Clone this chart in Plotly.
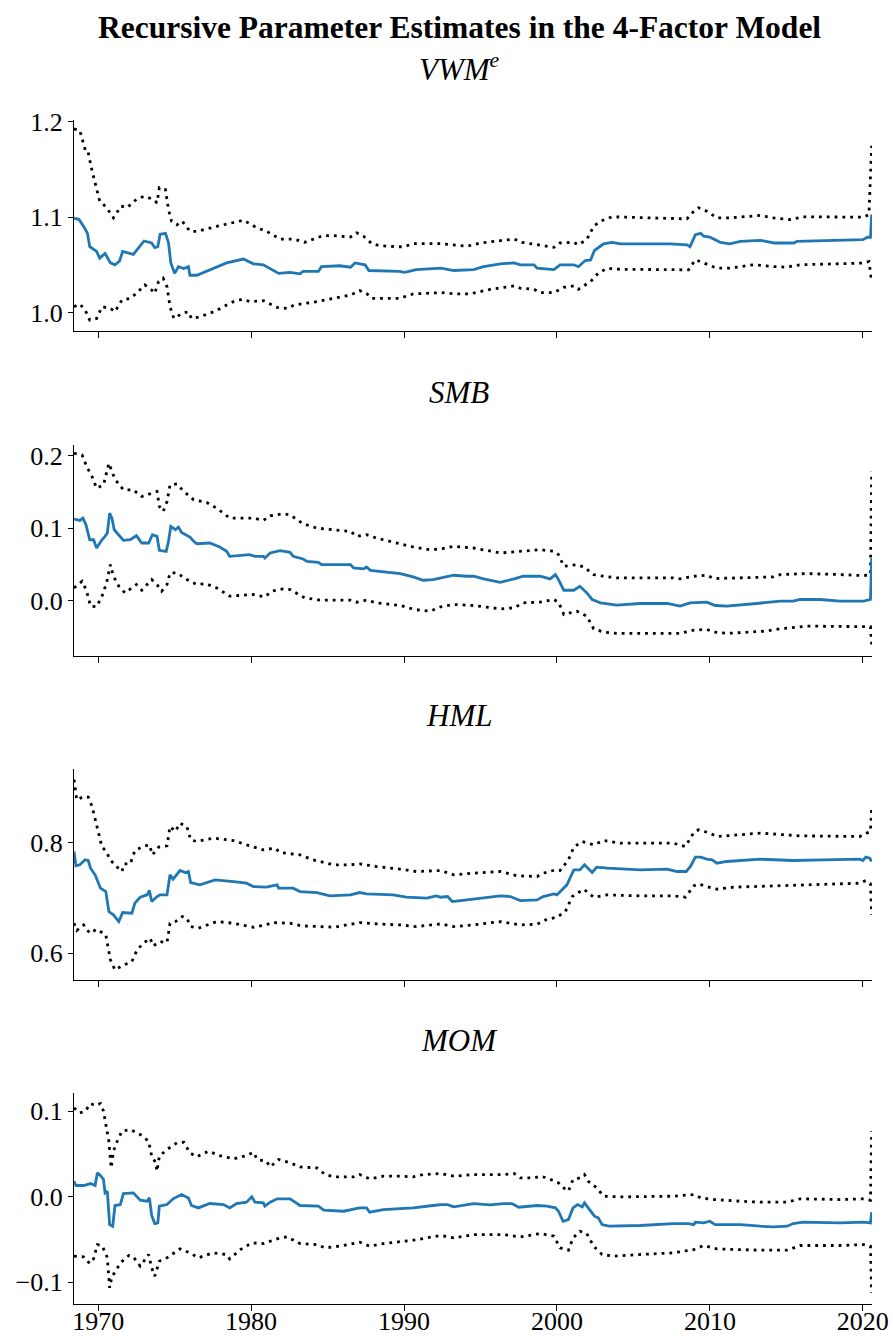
import plotly.graph_objects as go

# ---------------- data ----------------
vwm_est_x = [1968.42, 1968.75, 1969.1, 1969.3, 1969.45, 1969.9, 1970.1, 1970.45, 1970.8, 1971.1, 1971.4, 1971.6, 1972.3, 1973.0, 1973.5, 1973.7, 1973.9, 1974.05, 1974.4, 1974.6, 1974.75, 1974.9, 1975.0, 1975.25, 1975.6, 1975.9, 1976.0, 1976.45, 1977.5, 1978.4, 1979.5, 1980.15, 1980.8, 1981.8, 1982.55, 1983.2, 1983.4, 1984.4, 1984.6, 1985.8, 1986.5, 1986.8, 1987.45, 1987.7, 1989.7, 1990.05, 1990.8, 1992.4, 1993.25, 1994.55, 1995.2, 1996.3, 1997.2, 1997.6, 1998.5, 1998.7, 1999.8, 2000.2, 2001.1, 2001.4, 2001.85, 2002.2, 2002.45, 2003.05, 2003.6, 2004.15, 2007.4, 2008.5, 2008.7, 2009.05, 2009.4, 2009.6, 2010.0, 2010.7, 2011.3, 2012.0, 2013.3, 2014.2, 2015.5, 2015.7, 2020.0, 2020.3, 2020.5, 2020.58]
vwm_est_y = [1.099, 1.0975, 1.089, 1.083, 1.069, 1.064, 1.057, 1.062, 1.052, 1.050, 1.054, 1.064, 1.061, 1.075, 1.073, 1.068, 1.069, 1.082, 1.083, 1.073, 1.052, 1.045, 1.041, 1.048, 1.046, 1.048, 1.039, 1.039, 1.046, 1.052, 1.056, 1.051, 1.050, 1.041, 1.042, 1.0405, 1.043, 1.043, 1.048, 1.049, 1.0475, 1.052, 1.050, 1.044, 1.043, 1.042, 1.045, 1.0465, 1.044, 1.045, 1.048, 1.051, 1.052, 1.050, 1.050, 1.0465, 1.045, 1.050, 1.050, 1.048, 1.0545, 1.055, 1.065, 1.072, 1.0735, 1.072, 1.072, 1.071, 1.069, 1.0817, 1.083, 1.080, 1.079, 1.0735, 1.072, 1.0746, 1.0757, 1.0729, 1.0729, 1.0746, 1.0764, 1.0789, 1.0789, 1.1028]
vwm_up_x = [1968.42, 1968.8, 1969.2, 1969.35, 1969.6, 1969.9, 1970.1, 1970.55, 1971.0, 1971.5, 1971.9, 1972.5, 1973.0, 1973.6, 1973.85, 1974.0, 1974.4, 1974.6, 1974.8, 1975.15, 1975.5, 1976.0, 1976.45, 1977.8, 1978.85, 1979.5, 1980.4, 1981.0, 1981.9, 1982.8, 1983.5, 1984.3, 1984.7, 1985.4, 1986.5, 1986.9, 1987.35, 1987.9, 1988.4, 1989.95, 1990.6, 1992.4, 1993.5, 1994.1, 1995.0, 1996.3, 1997.2, 1997.7, 1998.7, 1999.8, 2000.2, 2001.1, 2001.4, 2001.95, 2002.4, 2002.85, 2003.6, 2005.45, 2008.5, 2008.95, 2009.25, 2009.8, 2010.45, 2011.3, 2013.3, 2014.15, 2015.25, 2016.1, 2020.05, 2020.4, 2020.58]
vwm_up_y = [1.1926, 1.191, 1.168, 1.168, 1.1486, 1.131, 1.117, 1.110, 1.0993, 1.1116, 1.110, 1.1187, 1.122, 1.1187, 1.115, 1.131, 1.129, 1.108, 1.0958, 1.092, 1.0958, 1.0852, 1.085, 1.0905, 1.0947, 1.0968, 1.0887, 1.0852, 1.077, 1.077, 1.0736, 1.078, 1.0806, 1.0806, 1.0792, 1.0835, 1.080, 1.0722, 1.070, 1.0687, 1.0722, 1.0722, 1.070, 1.0694, 1.0729, 1.0754, 1.0771, 1.0736, 1.0711, 1.0683, 1.0729, 1.0736, 1.0711, 1.0764, 1.0905, 1.0958, 1.1004, 1.0993, 1.0982, 1.1063, 1.1099, 1.1063, 1.0993, 1.0993, 1.1018, 1.0993, 1.0975, 1.1004, 1.100, 1.1028, 1.175]
vwm_lo_x = [1968.42, 1968.8, 1969.15, 1969.45, 1969.9, 1970.25, 1970.8, 1971.1, 1971.55, 1972.1, 1972.5, 1973.05, 1973.5, 1973.7, 1973.95, 1974.25, 1974.5, 1974.7, 1974.95, 1975.5, 1975.9, 1976.1, 1976.65, 1977.55, 1978.85, 1979.4, 1979.95, 1980.8, 1981.7, 1982.35, 1982.8, 1984.3, 1985.4, 1986.5, 1987.1, 1987.55, 1987.9, 1989.7, 1990.6, 1992.4, 1993.5, 1994.3, 1995.65, 1997.2, 1997.6, 1998.5, 1998.9, 1999.8, 2000.45, 2001.1, 2001.4, 2002.2, 2002.7, 2003.3, 2003.7, 2008.6, 2009.05, 2009.6, 2010.45, 2011.3, 2012.85, 2014.15, 2015.0, 2015.9, 2020.05, 2020.4, 2020.58]
vwm_lo_y = [1.006, 1.0088, 1.0025, 0.9919, 0.9937, 1.006, 1.0042, 1.0007, 1.013, 1.0148, 1.020, 1.0289, 1.0236, 1.020, 1.0324, 1.0359, 1.027, 1.006, 0.9937, 0.999, 1.0007, 0.9937, 0.9954, 1.0007, 1.0113, 1.0137, 1.0113, 1.0123, 1.0053, 1.0042, 1.0077, 1.0113, 1.0148, 1.0183, 1.0229, 1.020, 1.0148, 1.0148, 1.0194, 1.0208, 1.0194, 1.0194, 1.0243, 1.0278, 1.0254, 1.0243, 1.0208, 1.0208, 1.0264, 1.0278, 1.0243, 1.0324, 1.0412, 1.0465, 1.0454, 1.0447, 1.0553, 1.0518, 1.0465, 1.0465, 1.050, 1.0482, 1.0475, 1.050, 1.0518, 1.0535, 1.0324]

smb_est_x = [1968.42, 1968.8, 1969.0, 1969.2, 1969.45, 1969.7, 1969.9, 1970.25, 1970.45, 1970.6, 1970.75, 1970.9, 1971.05, 1971.35, 1971.65, 1972.1, 1972.5, 1972.85, 1973.3, 1973.55, 1973.85, 1974.0, 1974.45, 1974.6, 1974.75, 1975.05, 1975.25, 1975.45, 1976.0, 1976.25, 1976.45, 1977.3, 1977.95, 1978.4, 1978.6, 1979.9, 1980.25, 1980.8, 1980.9, 1981.25, 1981.9, 1982.55, 1982.75, 1983.4, 1983.65, 1984.4, 1984.6, 1986.5, 1986.7, 1987.35, 1987.55, 1987.8, 1989.75, 1990.6, 1991.25, 1991.9, 1992.4, 1993.25, 1994.1, 1994.55, 1995.2, 1996.3, 1997.2, 1997.8, 1998.9, 1999.55, 1999.9, 2000.1, 2000.45, 2001.1, 2001.5, 2001.95, 2002.3, 2002.85, 2003.9, 2005.45, 2007.2, 2008.05, 2008.7, 2009.8, 2010.35, 2011.1, 2013.05, 2014.15, 2014.6, 2015.45, 2015.9, 2017.2, 2018.5, 2020.05, 2020.5, 2020.58]
smb_est_y = [0.1124, 0.1106, 0.1138, 0.1046, 0.0839, 0.0839, 0.0725, 0.0839, 0.0885, 0.0931, 0.1206, 0.1138, 0.0977, 0.0908, 0.083, 0.0839, 0.0894, 0.0794, 0.0794, 0.0908, 0.0885, 0.0693, 0.0679, 0.0817, 0.1023, 0.0977, 0.1014, 0.094, 0.0876, 0.0817, 0.0784, 0.0794, 0.0739, 0.0679, 0.061, 0.0633, 0.061, 0.061, 0.0587, 0.0656, 0.0688, 0.0665, 0.061, 0.0573, 0.0541, 0.0528, 0.0495, 0.0495, 0.045, 0.0436, 0.0463, 0.0417, 0.0372, 0.0326, 0.028, 0.0289, 0.0312, 0.0349, 0.0335, 0.0335, 0.0298, 0.0252, 0.0298, 0.0335, 0.0335, 0.0298, 0.0358, 0.0289, 0.0142, 0.0142, 0.0197, 0.0106, 0.0014, -0.0032, -0.0064, -0.0041, -0.0041, -0.0078, -0.0032, -0.0023, -0.0069, -0.0078, -0.0041, -0.0023, -0.0009, -0.0009, 0.0014, 0.0014, -0.0009, -0.0009, 0.0014, 0.0587]
smb_up_x = [1968.42, 1968.95, 1969.25, 1969.6, 1969.9, 1970.35, 1970.7, 1970.9, 1971.1, 1971.65, 1972.3, 1972.85, 1973.5, 1973.85, 1974.0, 1974.25, 1974.5, 1974.7, 1975.15, 1975.6, 1976.25, 1977.1, 1977.75, 1978.6, 1980.15, 1980.8, 1981.25, 1982.1, 1982.55, 1983.4, 1984.3, 1985.4, 1986.5, 1986.9, 1987.55, 1988.2, 1989.75, 1990.6, 1991.7, 1992.4, 1993.25, 1994.55, 1996.3, 1997.8, 1998.9, 1999.8, 2000.1, 2000.45, 2001.3, 2001.75, 2002.4, 2003.05, 2003.9, 2007.6, 2008.05, 2008.95, 2009.8, 2010.25, 2014.15, 2014.6, 2016.35, 2018.5, 2020.05, 2020.5, 2020.58]
smb_up_y = [0.2032, 0.2009, 0.1849, 0.1711, 0.155, 0.1596, 0.1894, 0.178, 0.1674, 0.1528, 0.1528, 0.1436, 0.1482, 0.1505, 0.1298, 0.1229, 0.1367, 0.1596, 0.161, 0.1505, 0.139, 0.1353, 0.1275, 0.1138, 0.1138, 0.1106, 0.117, 0.1197, 0.1183, 0.106, 0.100, 0.0977, 0.0954, 0.0885, 0.0908, 0.0862, 0.078, 0.0739, 0.0702, 0.0711, 0.0748, 0.0725, 0.0656, 0.0679, 0.0702, 0.0679, 0.0633, 0.0472, 0.0495, 0.0463, 0.0358, 0.0335, 0.0312, 0.0312, 0.0298, 0.0335, 0.0349, 0.0303, 0.0326, 0.0358, 0.0372, 0.0358, 0.0344, 0.0358, 0.178]
smb_lo_x = [1968.42, 1968.95, 1969.25, 1969.5, 1969.9, 1970.25, 1970.55, 1970.8, 1971.0, 1971.35, 1971.75, 1972.5, 1972.85, 1973.5, 1973.85, 1974.15, 1974.5, 1974.7, 1975.15, 1975.8, 1976.45, 1977.0, 1977.75, 1978.6, 1980.15, 1980.9, 1981.35, 1982.1, 1982.55, 1983.5, 1984.5, 1986.5, 1986.9, 1987.55, 1988.2, 1989.75, 1990.7, 1991.7, 1992.4, 1993.25, 1994.55, 1996.3, 1997.2, 1997.8, 1998.9, 1999.8, 2000.1, 2000.45, 2001.3, 2001.95, 2002.4, 2003.05, 2003.9, 2007.6, 2008.05, 2008.95, 2009.8, 2010.25, 2011.1, 2013.7, 2014.6, 2016.35, 2018.5, 2020.05, 2020.5, 2020.58]
smb_lo_y = [0.0174, 0.0266, 0.0128, -0.0078, -0.0087, 0.006, 0.0243, 0.0495, 0.0335, 0.0197, 0.0106, 0.022, 0.0142, 0.0289, 0.022, 0.0128, 0.022, 0.0381, 0.0381, 0.0289, 0.022, 0.0234, 0.0174, 0.006, 0.0083, 0.005, 0.0128, 0.0161, 0.0151, 0.0037, 0.0005, 0.0005, -0.0023, 0.0005, -0.0032, -0.0069, -0.0124, -0.0147, -0.0087, -0.0055, -0.0069, -0.0115, -0.0101, -0.0032, -0.0023, 0.0014, -0.0023, -0.0193, -0.0147, -0.0216, -0.039, -0.0436, -0.0454, -0.0445, -0.0454, -0.0408, -0.0399, -0.0436, -0.0454, -0.0422, -0.039, -0.0353, -0.0353, -0.0362, -0.0362, -0.0606]

hml_est_x = [1968.42, 1968.55, 1968.8, 1969.15, 1969.35, 1969.5, 1969.8, 1970.15, 1970.5, 1970.7, 1971.0, 1971.35, 1971.6, 1972.2, 1972.4, 1972.75, 1973.2, 1973.35, 1973.5, 1973.85, 1974.05, 1974.5, 1974.7, 1974.9, 1975.35, 1975.7, 1975.9, 1976.05, 1976.65, 1977.65, 1978.85, 1979.7, 1980.15, 1981.0, 1981.7, 1981.8, 1982.75, 1983.2, 1984.3, 1985.15, 1986.5, 1987.1, 1987.55, 1989.3, 1990.15, 1991.5, 1992.1, 1992.4, 1992.85, 1993.15, 1993.7, 1994.55, 1995.4, 1996.3, 1996.95, 1997.6, 1998.7, 1999.1, 1999.8, 2000.0, 2000.65, 2001.1, 2001.5, 2001.8, 2002.3, 2002.6, 2003.3, 2005.45, 2007.2, 2007.85, 2008.45, 2008.75, 2009.05, 2009.4, 2009.8, 2010.15, 2010.45, 2011.1, 2013.3, 2015.45, 2017.4, 2019.8, 2020.0, 2020.2, 2020.45, 2020.58]
hml_est_y = [0.7837, 0.7578, 0.7596, 0.7687, 0.7675, 0.7536, 0.7416, 0.7175, 0.7114, 0.6753, 0.6693, 0.6572, 0.6735, 0.6723, 0.6904, 0.7012, 0.7054, 0.7133, 0.6934, 0.7024, 0.7054, 0.7054, 0.7416, 0.7337, 0.7494, 0.7458, 0.7476, 0.7277, 0.7235, 0.7325, 0.7295, 0.7265, 0.7205, 0.7193, 0.7235, 0.7175, 0.7175, 0.7114, 0.7096, 0.7036, 0.7054, 0.7096, 0.7072, 0.7054, 0.7012, 0.6994, 0.7036, 0.7012, 0.7024, 0.6934, 0.6952, 0.6976, 0.7012, 0.7036, 0.7024, 0.6952, 0.6964, 0.7024, 0.7072, 0.7054, 0.7235, 0.7506, 0.7506, 0.7596, 0.7458, 0.7554, 0.7536, 0.7506, 0.7518, 0.7476, 0.7476, 0.7578, 0.7735, 0.7735, 0.7699, 0.7687, 0.7627, 0.7657, 0.7699, 0.7675, 0.7687, 0.7699, 0.7675, 0.7735, 0.7717, 0.7657]
hml_up_x = [1968.42, 1968.6, 1969.05, 1969.35, 1969.6, 1969.9, 1970.25, 1970.55, 1970.75, 1971.2, 1971.55, 1971.7, 1972.1, 1972.4, 1972.95, 1973.35, 1973.55, 1973.95, 1974.5, 1974.7, 1975.05, 1975.35, 1975.8, 1976.05, 1976.45, 1977.55, 1978.85, 1979.7, 1980.8, 1981.55, 1981.9, 1983.2, 1984.05, 1985.4, 1986.5, 1987.1, 1988.2, 1989.75, 1990.8, 1992.4, 1993.25, 1994.55, 1996.3, 1997.4, 1998.7, 1999.1, 1999.9, 2000.2, 2000.75, 2001.1, 2001.65, 2002.4, 2003.05, 2004.15, 2007.6, 2008.4, 2008.95, 2009.25, 2010.0, 2010.45, 2013.3, 2015.9, 2019.8, 2020.25, 2020.5, 2020.58]
hml_up_y = [0.9133, 0.8771, 0.8831, 0.8819, 0.8651, 0.8289, 0.7916, 0.7837, 0.7699, 0.7566, 0.7476, 0.7614, 0.7614, 0.7855, 0.7928, 0.7958, 0.7777, 0.7916, 0.794, 0.8289, 0.8199, 0.8349, 0.8289, 0.8048, 0.8018, 0.8078, 0.8036, 0.7958, 0.7867, 0.7898, 0.7819, 0.7777, 0.7687, 0.7596, 0.7596, 0.7614, 0.7566, 0.7518, 0.7476, 0.7494, 0.7416, 0.7446, 0.7476, 0.7398, 0.7386, 0.7446, 0.7506, 0.7494, 0.7687, 0.7916, 0.8018, 0.7958, 0.8036, 0.7988, 0.7988, 0.7928, 0.8181, 0.8229, 0.8169, 0.8108, 0.8169, 0.812, 0.8108, 0.8169, 0.8199, 0.862]
hml_lo_x = [1968.42, 1968.6, 1969.05, 1969.45, 1969.9, 1970.5, 1970.7, 1970.8, 1971.1, 1971.55, 1972.2, 1972.55, 1972.95, 1973.4, 1973.6, 1974.05, 1974.5, 1974.7, 1975.05, 1975.5, 1975.8, 1976.05, 1976.55, 1977.75, 1978.85, 1980.15, 1981.0, 1981.35, 1982.55, 1983.3, 1984.5, 1985.4, 1987.1, 1988.2, 1989.75, 1990.8, 1992.4, 1993.25, 1994.55, 1996.3, 1997.6, 1998.7, 1999.35, 2000.0, 2000.55, 2001.0, 2001.75, 2002.4, 2003.3, 2005.45, 2007.6, 2008.4, 2008.95, 2009.25, 2009.8, 2010.45, 2011.55, 2014.15, 2016.35, 2019.8, 2020.2, 2020.5, 2020.58]
hml_lo_y = [0.6542, 0.641, 0.6512, 0.6361, 0.6434, 0.6331, 0.603, 0.588, 0.5699, 0.5771, 0.5849, 0.606, 0.6181, 0.6271, 0.6133, 0.6211, 0.6193, 0.6542, 0.6572, 0.6663, 0.6633, 0.6482, 0.6452, 0.6572, 0.6542, 0.647, 0.6512, 0.6554, 0.6542, 0.6494, 0.6482, 0.647, 0.6554, 0.653, 0.6512, 0.6482, 0.653, 0.6482, 0.6512, 0.6572, 0.6512, 0.6524, 0.6614, 0.6651, 0.6753, 0.7024, 0.7157, 0.7012, 0.7054, 0.7036, 0.7036, 0.7012, 0.7217, 0.7253, 0.7205, 0.7157, 0.7193, 0.7217, 0.7235, 0.7265, 0.7313, 0.7253, 0.6693]

mom_est_x = [1968.42, 1968.55, 1969.05, 1969.5, 1969.8, 1969.95, 1970.15, 1970.35, 1970.45, 1970.6, 1970.75, 1970.95, 1971.1, 1971.45, 1971.65, 1972.3, 1972.75, 1973.2, 1973.35, 1973.5, 1973.7, 1973.9, 1974.0, 1974.5, 1974.9, 1975.45, 1975.9, 1976.1, 1976.55, 1977.3, 1978.2, 1978.6, 1979.05, 1979.7, 1980.05, 1980.25, 1980.8, 1980.9, 1981.25, 1981.7, 1982.55, 1983.2, 1984.4, 1984.75, 1986.05, 1987.1, 1987.55, 1987.75, 1988.65, 1990.6, 1991.9, 1992.4, 1992.85, 1993.25, 1994.55, 1995.65, 1996.5, 1997.05, 1997.5, 1998.7, 1999.35, 1999.9, 2000.1, 2000.4, 2000.75, 2001.05, 2001.35, 2001.65, 2001.8, 2002.05, 2002.45, 2002.7, 2002.95, 2003.4, 2005.45, 2007.6, 2008.6, 2008.95, 2009.05, 2009.6, 2010.0, 2010.35, 2012.0, 2013.3, 2014.15, 2015.05, 2015.45, 2016.1, 2018.5, 2020.05, 2020.5, 2020.58]
mom_est_y = [0.0183, 0.0133, 0.0133, 0.0156, 0.0133, 0.0281, 0.025, 0.0203, 0.0047, 0.0066, -0.0324, -0.0343, -0.0101, -0.009, 0.0039, 0.0047, -0.0039, -0.0051, -0.0012, -0.0218, -0.0312, -0.0304, -0.0109, -0.009, -0.0023, 0.0027, -0.0012, -0.0101, -0.0129, -0.0078, -0.009, -0.0129, -0.0078, -0.0062, 0.0, -0.0062, -0.007, -0.0109, -0.0062, -0.0023, -0.0023, -0.0101, -0.0109, -0.0156, -0.0168, -0.0129, -0.0129, -0.0179, -0.0148, -0.0129, -0.0101, -0.009, -0.009, -0.0117, -0.0078, -0.0094, -0.0078, -0.0078, -0.0121, -0.0101, -0.0109, -0.0129, -0.0168, -0.0285, -0.0265, -0.0129, -0.009, -0.0117, -0.007, -0.0129, -0.0226, -0.0246, -0.0324, -0.0343, -0.0335, -0.0312, -0.0312, -0.0324, -0.0296, -0.0304, -0.0285, -0.0324, -0.0324, -0.0343, -0.0351, -0.0343, -0.0312, -0.0296, -0.0304, -0.0296, -0.0304, -0.0179]
mom_up_x = [1968.42, 1968.8, 1969.15, 1969.5, 1969.8, 1970.15, 1970.35, 1970.5, 1970.7, 1970.85, 1971.0, 1971.2, 1971.55, 1972.1, 1972.75, 1973.3, 1973.5, 1973.75, 1973.85, 1974.0, 1974.5, 1975.15, 1975.6, 1976.0, 1976.45, 1977.2, 1977.95, 1978.85, 1979.7, 1980.15, 1980.4, 1981.0, 1981.25, 1981.8, 1982.55, 1983.2, 1984.3, 1984.85, 1985.4, 1986.7, 1987.1, 1987.75, 1988.65, 1989.75, 1990.6, 1991.25, 1992.4, 1993.25, 1994.55, 1996.5, 1997.2, 1997.6, 1998.5, 1998.9, 1999.35, 2000.1, 2000.55, 2000.75, 2001.05, 2001.5, 2001.8, 2002.05, 2002.6, 2003.05, 2004.15, 2007.6, 2008.95, 2009.4, 2010.25, 2012.0, 2013.3, 2015.05, 2015.9, 2018.5, 2020.05, 2020.5, 2020.58]
mom_up_y = [0.1041, 0.0982, 0.1002, 0.1092, 0.1068, 0.1092, 0.1002, 0.0827, 0.0651, 0.0339, 0.0534, 0.0632, 0.0768, 0.0788, 0.0729, 0.0651, 0.0476, 0.0405, 0.030, 0.0476, 0.0554, 0.0632, 0.0639, 0.0515, 0.0468, 0.0534, 0.0483, 0.0444, 0.0483, 0.0522, 0.0437, 0.0417, 0.0351, 0.0437, 0.0398, 0.0351, 0.0339, 0.0261, 0.0234, 0.0234, 0.0261, 0.0211, 0.0242, 0.0242, 0.0234, 0.0261, 0.0273, 0.0242, 0.0261, 0.0261, 0.0273, 0.0222, 0.0222, 0.0242, 0.0222, 0.0164, 0.0086, 0.0066, 0.0203, 0.0222, 0.0261, 0.0183, 0.0105, 0.0008, 0.0, 0.0008, 0.0027, -0.0012, -0.0031, -0.0051, -0.0062, -0.0062, -0.0023, -0.0031, -0.0023, -0.0039, 0.0768]
mom_lo_x = [1968.42, 1969.05, 1969.45, 1969.7, 1969.95, 1970.25, 1970.45, 1970.6, 1970.75, 1970.9, 1971.1, 1971.45, 1972.0, 1972.3, 1972.75, 1973.3, 1973.5, 1973.7, 1974.0, 1974.5, 1975.35, 1976.0, 1976.55, 1977.5, 1978.4, 1978.6, 1979.3, 1980.05, 1980.8, 1981.7, 1982.35, 1983.2, 1984.3, 1984.85, 1986.05, 1987.1, 1987.75, 1988.65, 1990.6, 1992.4, 1993.25, 1994.55, 1996.5, 1997.6, 1998.9, 1999.8, 2000.2, 2000.75, 2001.05, 2001.5, 2001.95, 2002.4, 2002.95, 2003.7, 2005.45, 2007.6, 2008.95, 2009.6, 2010.45, 2013.3, 2015.05, 2015.9, 2018.5, 2020.05, 2020.5, 2020.58]
mom_lo_y = [-0.0694, -0.0702, -0.078, -0.0725, -0.0558, -0.0569, -0.0647, -0.0713, -0.1064, -0.0928, -0.0881, -0.0772, -0.0686, -0.0702, -0.0811, -0.0674, -0.083, -0.0928, -0.0752, -0.0713, -0.0608, -0.0655, -0.0713, -0.0655, -0.0674, -0.0725, -0.0616, -0.0538, -0.0546, -0.0491, -0.0468, -0.0546, -0.0558, -0.0597, -0.0569, -0.053, -0.0577, -0.0546, -0.0507, -0.0452, -0.048, -0.0441, -0.0441, -0.0468, -0.0429, -0.046, -0.0597, -0.0624, -0.048, -0.0402, -0.0429, -0.0577, -0.0674, -0.0694, -0.0674, -0.0655, -0.0616, -0.0569, -0.0608, -0.0624, -0.0624, -0.0569, -0.0569, -0.0558, -0.0577, -0.1123]

panel_titles = ["<i>VWM<sup>e</sup></i>", "<i>SMB</i>", "<i>HML</i>", "<i>MOM</i>"]
main_title = "<b>Recursive Parameter Estimates in the 4-Factor Model</b>"
x_ticks = [1970, 1980, 1990, 2000, 2010, 2020]
y_ticks = [[1.0, 1.1, 1.2], [0.0, 0.1, 0.2], [0.6, 0.8], [-0.1, 0.0, 0.1]]
y_ranges = [[0.9805, 1.202], [-0.0766, 0.2147], [0.5517, 0.9327], [-0.1253, 0.1215]]
x_range = [1968.42, 2020.6]

panels = [
    (vwm_est_x, vwm_est_y, vwm_up_x, vwm_up_y, vwm_lo_x, vwm_lo_y),
    (smb_est_x, smb_est_y, smb_up_x, smb_up_y, smb_lo_x, smb_lo_y),
    (hml_est_x, hml_est_y, hml_up_x, hml_up_y, hml_lo_x, hml_lo_y),
    (mom_est_x, mom_est_y, mom_up_x, mom_up_y, mom_lo_x, mom_lo_y),
]

# ---------------- layout geometry ----------------
W, H = 893, 1336
plot_left, plot_right = 74, 872
panel_tops = [120, 445, 769, 1093]
panel_h = 211
FONT = "Liberation Serif"
TICK_SIZE = 26

fig = go.Figure()
layout = dict(
    width=W, height=H, autosize=False,
    margin=dict(l=0, r=0, t=0, b=0),
    paper_bgcolor="white", plot_bgcolor="white",
    showlegend=False,
    font=dict(family=FONT, color="black", size=TICK_SIZE),
)

blue = "#1f77b4"
for i, (ex, ey, ux, uy, lx, ly) in enumerate(panels):
    xa = "x" if i == 0 else f"x{i+1}"
    ya = "y" if i == 0 else f"y{i+1}"
    for xs, ys in ((ux, uy), (lx, ly)):
        fig.add_trace(go.Scatter(x=xs, y=ys, mode="lines", xaxis=xa, yaxis=ya,
                                 line=dict(color="black", width=2.8, dash="2.8px,5px"),
                                 hoverinfo="skip"))
    fig.add_trace(go.Scatter(x=ex, y=ey, mode="lines", xaxis=xa, yaxis=ya,
                             line=dict(color=blue, width=2.8), hoverinfo="skip"))

    top = panel_tops[i]
    bot = top + panel_h
    xkey = "xaxis" if i == 0 else f"xaxis{i+1}"
    ykey = "yaxis" if i == 0 else f"yaxis{i+1}"
    layout[xkey] = dict(
        domain=[plot_left / W, plot_right / W], anchor=ya, range=x_range,
        tickmode="array", tickvals=x_ticks, ticktext=[str(t) for t in x_ticks],
        showticklabels=(i == 3), ticks="outside", ticklen=6, tickwidth=1.2,
        tickcolor="black", showline=True, linecolor="black", linewidth=1.2,
        showgrid=False, zeroline=False, tickfont=dict(size=TICK_SIZE, family=FONT),
        ticklabelstandoff=-12, automargin=False,
    )
    layout[ykey] = dict(
        domain=[1 - bot / H, 1 - top / H], anchor=xa, range=y_ranges[i],
        tickmode="array", tickvals=y_ticks[i], tickformat=".1f",
        ticks="outside", ticklen=5, tickwidth=1.2, tickcolor="black",
        showline=True, linecolor="black", linewidth=1.2,
        showgrid=False, zeroline=False, tickfont=dict(size=TICK_SIZE, family=FONT),
        automargin=False,
    )

annotations = [dict(text=main_title, x=459 / W, y=1 - 27.5 / H, xref="paper", yref="paper",
                    xanchor="center", yanchor="middle", showarrow=False,
                    font=dict(family=FONT, size=31.5, color="black"))]
for i, t in enumerate(panel_titles):
    cy = panel_tops[i] - 53
    annotations.append(dict(text=t, x=459 / W, y=1 - cy / H, xref="paper", yref="paper",
                            xanchor="center", yanchor="middle", showarrow=False,
                            font=dict(family=FONT, size=31, color="black")))
layout["annotations"] = annotations
fig.update_layout(**layout)

fig.write_html("out.html")
